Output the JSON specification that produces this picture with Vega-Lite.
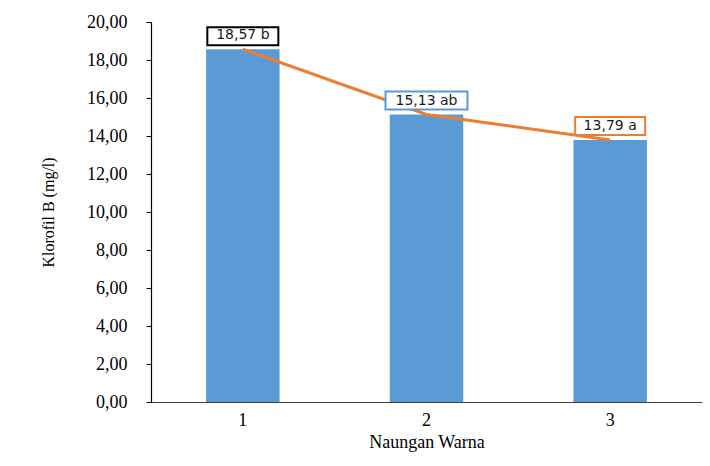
{
  "$schema": "https://vega.github.io/schema/vega-lite/v6.json",
  "width": 551,
  "height": 380,
  "autosize": {"type": "none"},
  "padding": {"left": 151, "top": 22, "right": 8, "bottom": 64},
  "background": "white",
  "config": {
    "view": {"stroke": null},
    "axis": {"labelOverlap": false},
    "locale": {"number": {"decimal": ",", "thousands": ".", "grouping": [3], "currency": ["", ""]}}
  },
  "data": {
    "values": [
      {"Naungan": "1", "Klorofil": 18.57, "Label": "18,57 b"},
      {"Naungan": "2", "Klorofil": 15.13, "Label": "15,13 ab"},
      {"Naungan": "3", "Klorofil": 13.79, "Label": "13,79 a"}
    ]
  },
  "encoding": {
    "x": {
      "field": "Naungan",
      "type": "ordinal",
      "scale": {"type": "band", "paddingInner": 0.6, "paddingOuter": 0.3},
      "axis": {
        "title": "Naungan Warna",
        "labelAngle": 0,
        "labelFont": "Liberation Serif",
        "labelFontSize": 18,
        "labelColor": "black",
        "labelPadding": 12,
        "titleFont": "Liberation Serif",
        "titleFontSize": 18,
        "titleFontWeight": "normal",
        "titleColor": "black",
        "titlePadding": 4,
        "domainColor": "#404040",
        "domainWidth": 1.2,
        "tickColor": "black",
        "tickSize": -3,
        "grid": false
      }
    },
    "y": {
      "field": "Klorofil",
      "type": "quantitative",
      "scale": {"domain": [0, 20], "nice": false},
      "axis": {
        "title": "Klorofil B (mg/l)",
        "values": [0, 2, 4, 6, 8, 10, 12, 14, 16, 18, 20],
        "format": ".2f",
        "grid": false,
        "labelOverlap": false,
        "labelFont": "Liberation Serif",
        "labelFontSize": 18,
        "labelColor": "black",
        "labelPadding": 19,
        "tickSize": 5,
        "tickColor": "black",
        "domainColor": "black",
        "domainWidth": 1.2,
        "titleFont": "Liberation Serif",
        "titleFontSize": 16,
        "titleFontWeight": "normal",
        "titleColor": "black",
        "titleX": -103,
        "titleY": 190,
        "titleAngle": -90,
        "titleAlign": "center",
        "titleBaseline": "middle"
      }
    }
  },
  "layer": [
    {
      "mark": {"type": "bar", "color": "#5B9BD5"}
    },
    {
      "mark": {"type": "line", "color": "#ED7D31", "strokeWidth": 3},
      "encoding": {}
    },
    {
      "transform": [{"filter": "datum.Naungan == '1'"}],
      "mark": {"type": "bar", "width": 71, "fill": "white", "stroke": "black", "strokeWidth": 2, "yOffset": -4, "y2Offset": -22},
      "encoding": {"y2": {"field": "Klorofil"}}
    },
    {
      "transform": [{"filter": "datum.Naungan == '2'"}],
      "mark": {"type": "bar", "width": 82, "fill": "white", "stroke": "#5B9BD5", "strokeWidth": 2, "yOffset": -5, "y2Offset": -23},
      "encoding": {"y2": {"field": "Klorofil"}}
    },
    {
      "transform": [{"filter": "datum.Naungan == '3'"}],
      "mark": {"type": "bar", "width": 70, "fill": "white", "stroke": "#ED7D31", "strokeWidth": 2, "yOffset": -5, "y2Offset": -23},
      "encoding": {"y2": {"field": "Klorofil"}}
    },
    {
      "mark": {"type": "text", "font": "DejaVu Sans", "fontSize": 14, "color": "#1a1a1a", "baseline": "middle", "align": "center", "dy": -14},
      "encoding": {"text": {"field": "Label"}}
    }
  ]
}
